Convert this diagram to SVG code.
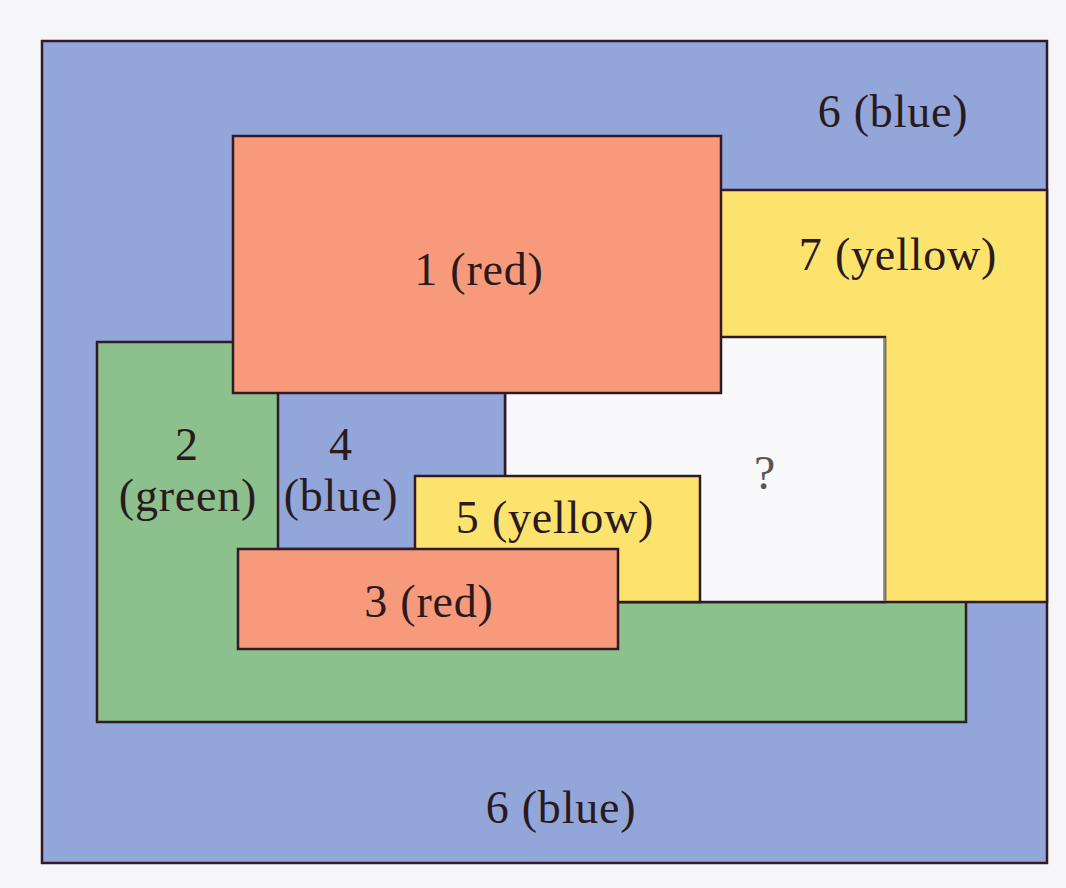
<svg xmlns="http://www.w3.org/2000/svg" width="1066" height="888" viewBox="0 0 1066 888">
  <style>
    .r { stroke: #2e1b26; stroke-width: 2.5; }
    .blue { fill: #93a6d9; }
    .red { fill: #f69a7b; }
    .green { fill: #8cc08c; }
    .yellow { fill: #fce36d; }
    .white { fill: #f9f8fa; }
    text { font-family: "Liberation Serif", "Times New Roman", serif; font-size: 46px; fill: #2a1a1e; text-anchor: middle; letter-spacing: 0.8px; }
  </style>
  <rect x="0" y="0" width="1066" height="888" fill="#f6f6f8"/>
  <g id="region-6-blue">
    <rect class="r blue" x="42" y="41" width="1005" height="822"/>
    <text x="893" y="127">6 (blue)</text>
    <text x="561" y="823">6 (blue)</text>
  </g>
  <g id="region-2-green">
    <rect class="r green" x="97" y="342" width="869" height="380"/>
    <text x="187" y="460">2</text>
    <text x="188" y="511">(green)</text>
  </g>
  <g id="region-7-yellow">
    <rect class="r yellow" x="600" y="190" width="447" height="412"/>
    <text x="898" y="270">7 (yellow)</text>
  </g>
  <g id="region-unknown">
    <rect class="r white" x="505" y="337" width="380" height="265"/>
    <line x1="884.5" y1="338" x2="884.5" y2="601" stroke="#8a8a8a" stroke-width="2.5"/>
    <text x="765" y="489" style="fill:#555555;font-size:48px">?</text>
  </g>
  <g id="region-4-blue">
    <rect class="r blue" x="278" y="380" width="227" height="169"/>
    <text x="341" y="460">4</text>
    <text x="341" y="511">(blue)</text>
  </g>
  <g id="region-1-red">
    <rect class="r red" x="233" y="136" width="488" height="257"/>
    <text x="479" y="285">1 (red)</text>
  </g>
  <g id="region-5-yellow">
    <rect class="r yellow" x="415" y="476" width="285" height="126"/>
    <text x="555" y="533">5 (yellow)</text>
  </g>
  <g id="region-3-red">
    <rect class="r red" x="238" y="549" width="380" height="100"/>
    <text x="429" y="617">3 (red)</text>
  </g>
  <g id="connectors"/>
</svg>
